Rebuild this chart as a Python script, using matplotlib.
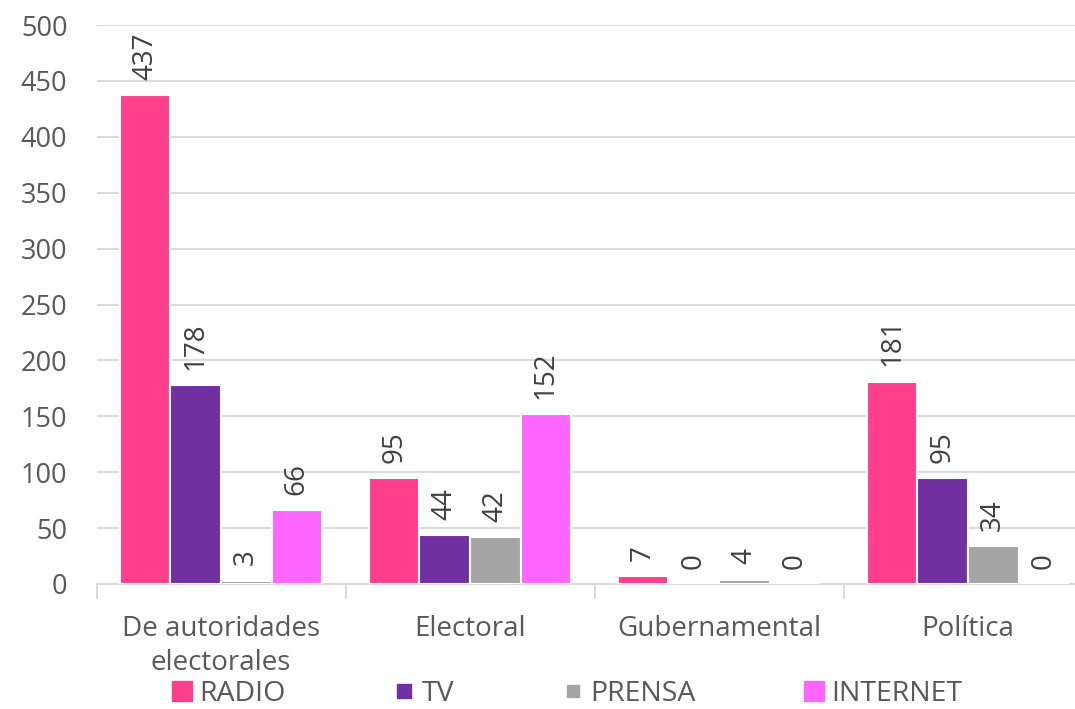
import matplotlib
matplotlib.use("Agg")
import matplotlib.pyplot as plt
from matplotlib.lines import Line2D
import numpy as np

categories = ["De autoridades\nelectorales", "Electoral", "Gubernamental", "Política"]
series_names = ["RADIO", "TV", "PRENSA", "INTERNET"]
radio = [437, 95, 7, 181]
tv = [178, 44, 0, 95]
prensa = [3, 42, 4, 34]
internet = [66, 152, 0, 0]
yticks = [0, 50, 100, 150, 200, 250, 300, 350, 400, 450, 500]

colors = ["#FF3F8C", "#7030A0", "#A5A5A5", "#FF66FF"]
series = [radio, tv, prensa, internet]
txt = "#595959"
grid = "#D9D9D9"
FONT = "Open Sans"

fig = plt.figure(figsize=(10.75, 7.09), dpi=100)
W, H = 1075, 709
left_px, right_px = 96.5, 1092.5
top_px, bot_px = 25, 584
ax = fig.add_axes([left_px / W, (H - bot_px) / H, (right_px - left_px) / W, (bot_px - top_px) / H])
ax.set_xlim(-0.5, 3.5)
ax.set_ylim(0, 500)

x = np.arange(len(categories))
bw = 0.203
for i, (vals, c) in enumerate(zip(series, colors)):
    off = (i - 1.5) * bw
    ax.bar(x + off, vals, width=bw, color=c, edgecolor="white", linewidth=1.5, zorder=3)
    for xi, v in zip(x + off, vals):
        ax.annotate(str(v), (xi, v), xytext=(0, 11), textcoords="offset points",
                    rotation=90, ha="center", va="bottom", fontsize=20,
                    color="#404040", family=FONT, zorder=4)

ax.set_yticks(yticks)
ax.yaxis.grid(True, color=grid, linewidth=1.3, zorder=0)
ax.set_axisbelow(True)
for s in ["top", "right", "left"]:
    ax.spines[s].set_visible(False)
ax.spines["bottom"].set_color(grid)
ax.spines["bottom"].set_linewidth(1.3)
ax.spines["bottom"].set_zorder(1)
ax.tick_params(axis="y", length=0, pad=21, labelsize=19.5, labelcolor=txt)
for lab in ax.get_yticklabels():
    lab.set_family(FONT)

# category labels at group centers, tick marks at group boundaries
ax.set_xticks([-0.5, 0.5, 1.5, 2.5, 3.5])
ax.set_xticklabels([])
ax.tick_params(axis="x", length=11, width=1.3, color=grid)
ax.set_xticks(x, minor=True)
ax.set_xticklabels(categories, minor=True, fontsize=20, color=txt, family=FONT, linespacing=1.3)
ax.tick_params(axis="x", which="minor", length=0, pad=22)

handles = []
msizes = [14.5, 10.0, 8.8, 14.5]
for n, c, ms in zip(series_names, colors, msizes):
    handles.append(Line2D([], [], ls="", marker="s", markersize=ms, color=c, label=n))
leg = fig.legend(handles=handles, loc="center left", bbox_to_anchor=(172 / W, (H - 694) / H),
                 ncol=4, frameon=False, prop={"family": FONT, "size": 20.5},
                 handlelength=0.72, handletextpad=0.25, columnspacing=3.8,
                 borderpad=0, borderaxespad=0, labelcolor=txt)

fig.savefig("out.png", dpi=100)
